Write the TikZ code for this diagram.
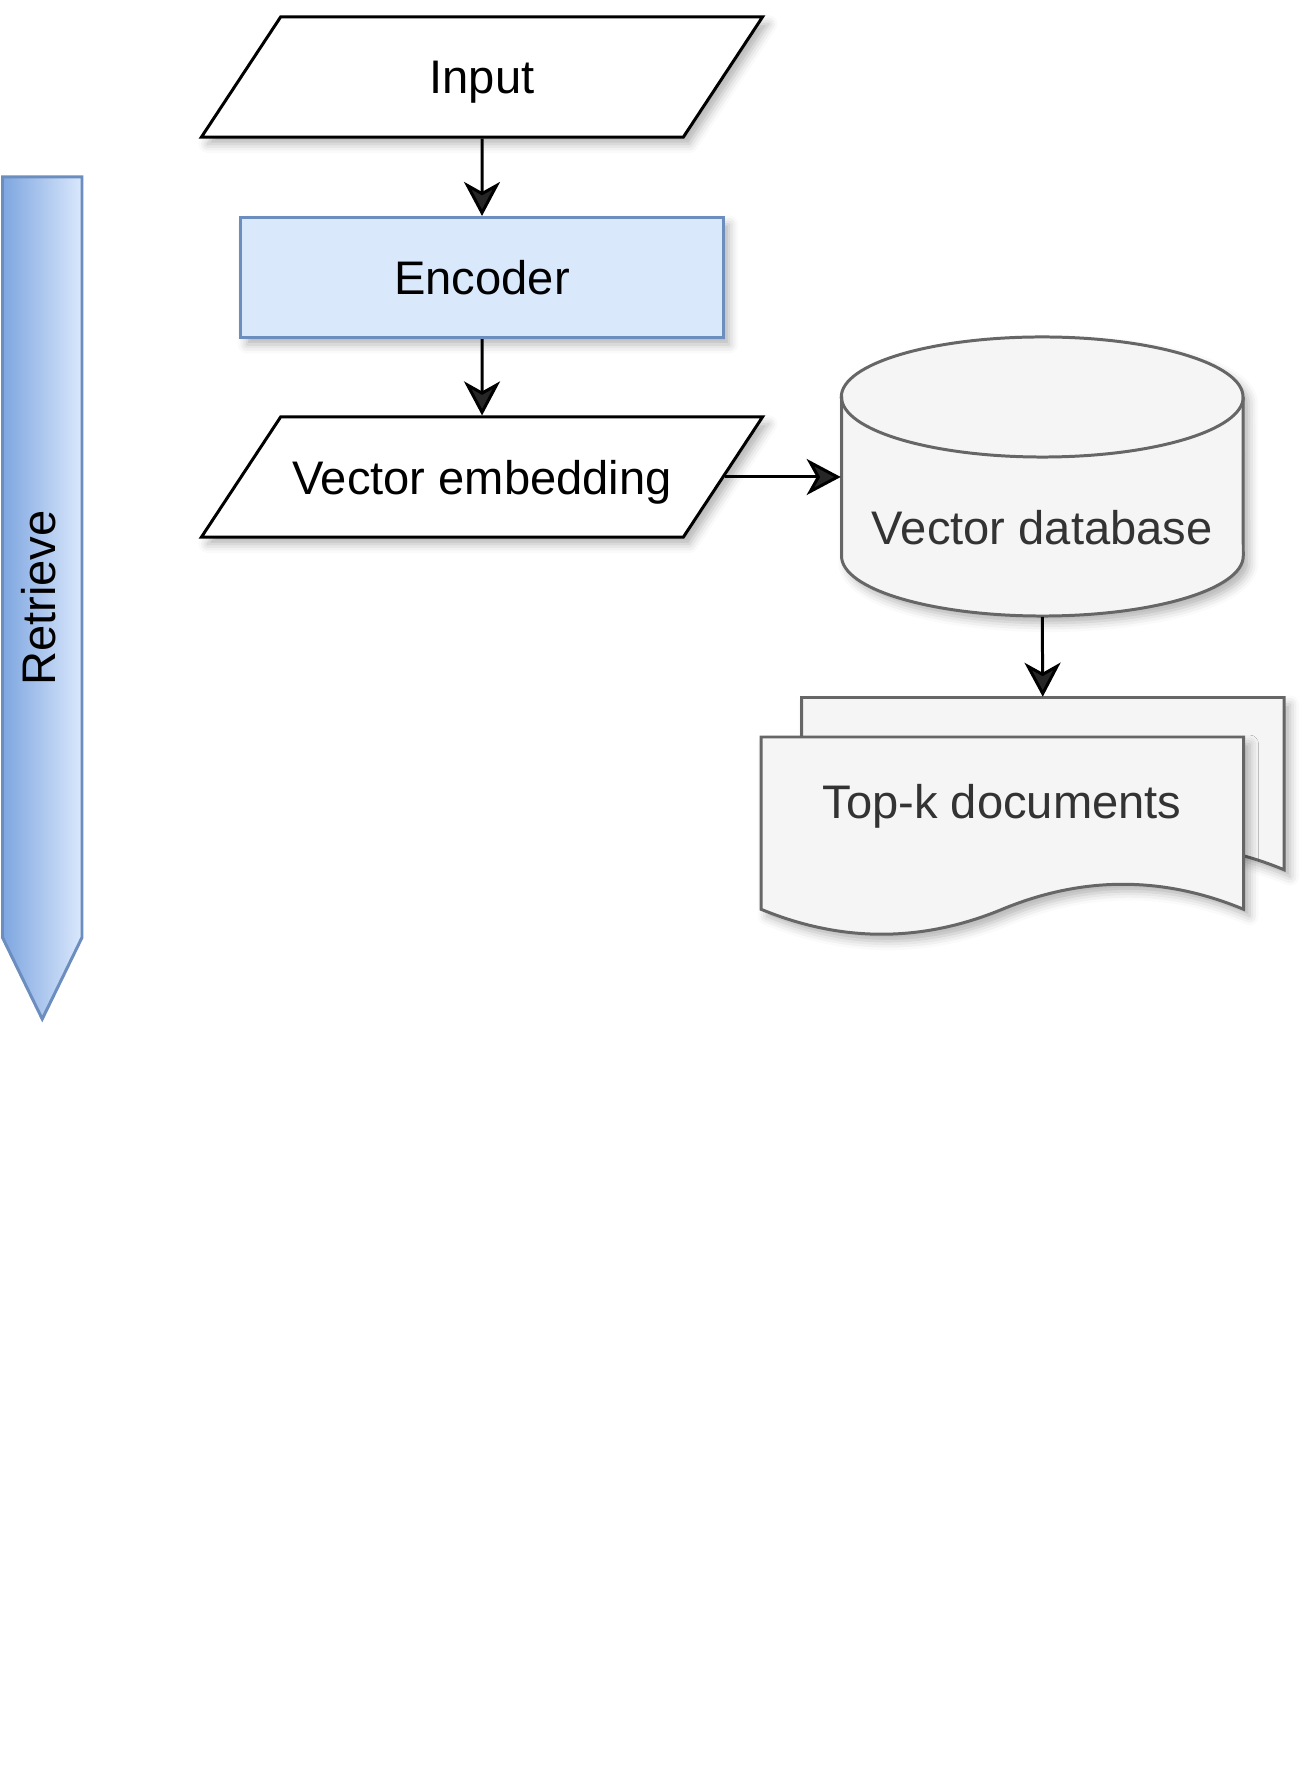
\documentclass[tikz,border=0pt]{standalone}
\usepackage{fontspec}
\setmainfont{Liberation Sans}
\usetikzlibrary{shapes.geometric,arrows.meta,shadows.blur}

\definecolor{bluefill}{HTML}{DAE8FC}
\definecolor{blueline}{HTML}{6C8EBF}
\definecolor{bluedark}{HTML}{7EA6E0}
\definecolor{grayfill}{HTML}{F5F5F5}
\definecolor{grayline}{HTML}{666666}
\definecolor{graytext}{HTML}{333333}

\tikzset{
    softshadow/.style={blur shadow={shadow xshift=0.06cm, shadow yshift=-0.07cm, shadow blur radius=0.09cm, shadow opacity=30}},
    io/.style={trapezium, trapezium left angle=56.6, trapezium right angle=123.4,
        draw=black, fill=white, line width=0.85pt, text width=4.025cm, align=flush center,
        text height=0.77cm, text depth=0.43cm, inner sep=0pt, softshadow},
    encbox/.style={rectangle, draw=blueline, fill=bluefill, line width=0.85pt, minimum width=4.82cm, minimum height=1.2cm, softshadow},
    grayshape/.style={draw=grayline, fill=grayfill, line width=0.85pt},
    arr/.style={line width=0.85pt, -{Stealth[length=0.34cm, width=0.36cm, inset=0.1cm]}},
    docshape/.pic={
        \draw[grayshape, softshadow] (0,0) -- (482.5,0) -- (482.5,172.25)
            .. controls (402.1,138.95) and (321.7,138.95) .. (241.25,172.25)
            .. controls (160.8,205.55) and (80.4,205.55) .. (0,172.25) -- cycle;
    }
}

\begin{document}
\begin{tikzpicture}[x=0.01cm, y=-0.01cm, font=\fontsize{13.4pt}{16pt}\selectfont]
    \useasboundingbox (0,0) rectangle (1312,1780);

    \path[draw=blueline, line width=0.85pt, left color=bluedark, right color=bluefill]
        (2.5,177) -- (82,177) -- (82,937.5) -- (42.25,1019) -- (2.5,937.5) -- cycle;
    \node[rotate=90] (retrieve) at (39,598) {Retrieve};

    \node[io] (input) at (482,77) {Input};
    \node[encbox] (encoder) at (482,277.5) {Encoder};
    \node[io] (embedding) at (482,477) {Vector embedding};

    \draw[grayshape, softshadow] (841.5,397) -- (841.5,556)
        arc[start angle=180, end angle=360, x radius=2.0075cm, y radius=0.6cm] -- (1243,397)
        arc[start angle=0, end angle=180, x radius=2.0075cm, y radius=0.6cm] -- cycle;
    \draw[grayline, line width=0.85pt] (841.5,397) arc[start angle=180, end angle=360, x radius=2.0075cm, y radius=0.6cm];
    \node[minimum width=4.015cm, minimum height=2.79cm, inner sep=0pt] (db) at (1042.25,476.5) {};
    \node[text=graytext] (dbtext) at (1042.25,528) {Vector database};

    \pic at (801.5,697.5) {docshape};
    \pic at (761,737) {docshape};
    \node[minimum width=4.825cm, minimum height=2cm, inner sep=0pt] (docs) at (1042.75,797.5) {};
    \node[text=graytext] (docstext) at (1002,806) {Top-k documents};

    \draw[arr] (input) -- (encoder);
    \draw[arr] (encoder) -- (embedding);
    \draw[arr] (embedding.east) -- (embedding.east -| db.west);
    \draw[arr] (db.south) -- (docs.north);
\end{tikzpicture}
\end{document}
